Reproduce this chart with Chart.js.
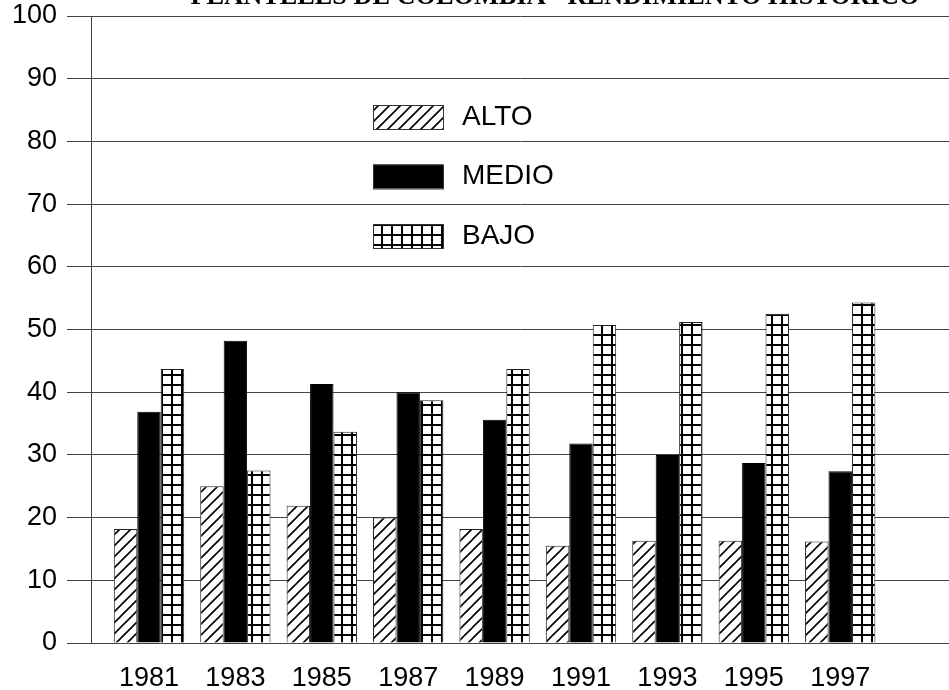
<!DOCTYPE html>
<html>
<head>
<meta charset="utf-8">
<title>Planteles de Colombia - Rendimiento histórico</title>
<script src="https://cdn.jsdelivr.net/npm/chart.js@4"></script>
<style>
	body { margin: 0; background: #ffffff; }
	#wrap { width: 949px; height: 690px; position: relative; }
</style>
</head>
<body>
<div id="wrap"><canvas id="myChart"></canvas></div>
<script>
// Data
var years = ["1981", "1983", "1985", "1987", "1989", "1991", "1993", "1995", "1997"];
var alto = [18.2, 25.0, 21.9, 20.0, 18.2, 15.5, 16.3, 16.3, 16.2];
var medio = [36.9, 48.2, 41.3, 40.0, 35.6, 31.8, 30.0, 28.7, 27.4];
var bajo = [43.7, 27.5, 33.7, 38.7, 43.7, 50.7, 51.2, 52.5, 54.3];
var seriesNames = ["ALTO", "MEDIO", "BAJO"];
var yMin = 0;
var yMax = 100;
var yStep = 10;
var chartTitle = "PLANTELES DE COLOMBIA - RENDIMIENTO HISTORICO";

var sans = "'Liberation Sans', Arial, sans-serif";
var lineColor = "#444444";

var ctx = document.getElementById("myChart").getContext("2d");

// Fill patterns
function hatchPattern() {
	var c = document.createElement("canvas");
	c.width = 11;
	c.height = 11;
	var g = c.getContext("2d");
	g.fillStyle = "#ffffff";
	g.fillRect(0, 0, 11, 11);
	g.strokeStyle = "#000000";
	g.lineWidth = 1.6;
	g.beginPath();
	g.moveTo(0, 11);
	g.lineTo(11, 0);
	g.moveTo(-1, 1);
	g.lineTo(1, -1);
	g.moveTo(10, 12);
	g.lineTo(12, 10);
	g.stroke();
	return ctx.createPattern(c, "repeat");
}

function gridPattern() {
	var c = document.createElement("canvas");
	c.width = 10;
	c.height = 10;
	var g = c.getContext("2d");
	g.fillStyle = "#ffffff";
	g.fillRect(0, 0, 10, 10);
	g.fillStyle = "#000000";
	g.fillRect(1, 0, 2, 10);
	g.fillRect(0, 4, 10, 2);
	return ctx.createPattern(c, "repeat");
}

function toPoints(values) {
	return values.map(function (v, i) {
		return { x: i, y: v };
	});
}

// Legend inside the plot + clipped title at the top
var legendAndTitle = {
	id: "legendAndTitle",
	afterDraw: function (chart) {
		var c = chart.ctx;
		c.save();
		chart.data.datasets.forEach(function (ds, i) {
			var y = 105 + i * 59.5;
			c.fillStyle = ds.backgroundColor;
			c.fillRect(373, y, 70, 24);
			c.strokeStyle = "#333333";
			c.lineWidth = 1;
			c.strokeRect(373.5, y + 0.5, 70, 24);
			c.fillStyle = "#000000";
			c.font = "28px " + sans;
			c.textAlign = "left";
			c.textBaseline = "middle";
			c.fillText(ds.label, 462, y + 12);
		});

		c.font = "bold 25px 'Liberation Serif', 'Times New Roman', serif";
		var w = c.measureText(chartTitle).width;
		var size = 25 * 730 / w;
		c.font = "bold " + size.toFixed(1) + "px 'Liberation Serif', 'Times New Roman', serif";
		c.textAlign = "center";
		c.textBaseline = "alphabetic";
		c.fillText(chartTitle, 555, 4);
		c.restore();
	},
};

var myChart = new Chart(ctx, {
	type: "bar",
	data: {
		datasets: [
			{
				label: seriesNames[0],
				data: toPoints(alto),
				backgroundColor: hatchPattern(),
				borderColor: "#222222",
				borderWidth: 1,
			},
			{
				label: seriesNames[1],
				data: toPoints(medio),
				backgroundColor: "#000000",
				borderColor: "#000000",
				borderWidth: 1,
			},
			{
				label: seriesNames[2],
				data: toPoints(bajo),
				backgroundColor: gridPattern(),
				borderColor: "#222222",
				borderWidth: 1,
			},
		],
	},
	options: {
		responsive: true,
		maintainAspectRatio: false,
		animation: false,
		layout: {
			padding: { top: 16, right: 0, bottom: 0, left: 0 },
		},
		datasets: {
			bar: {
				categoryPercentage: 0.814,
				barPercentage: 1.0,
			},
		},
		plugins: {
			legend: { display: false },
			tooltip: { enabled: false },
			title: { display: false },
		},
		scales: {
			x: {
				type: "linear",
				offset: false,
				min: -0.671,
				max: 9.259,
				grid: {
					display: false,
					drawTicks: false,
					offset: false,
				},
				border: {
					display: true,
					color: lineColor,
					width: 1,
				},
				afterBuildTicks: function (scale) {
					scale.ticks = years.map(function (y, i) {
						return { value: i };
					});
				},
				afterFit: function (scale) {
					scale.height = 47;
				},
				ticks: {
					autoSkip: false,
					maxRotation: 0,
					color: "#000000",
					padding: 19,
					font: { family: sans, size: 27 },
					callback: function (value) {
						return years[value];
					},
				},
			},
			y: {
				min: yMin,
				max: yMax,
				grid: {
					color: lineColor,
					lineWidth: 1,
					drawTicks: true,
					tickLength: 24,
					tickColor: lineColor,
				},
				border: {
					display: true,
					color: lineColor,
					width: 1,
				},
				afterFit: function (scale) {
					scale.width = 91;
					scale.paddingTop = 0;
					scale.paddingBottom = 0;
				},
				ticks: {
					stepSize: yStep,
					color: "#000000",
					padding: 10,
					font: { family: sans, size: 27 },
				},
			},
		},
	},
	plugins: [legendAndTitle],
});
</script>
</body>
</html>
